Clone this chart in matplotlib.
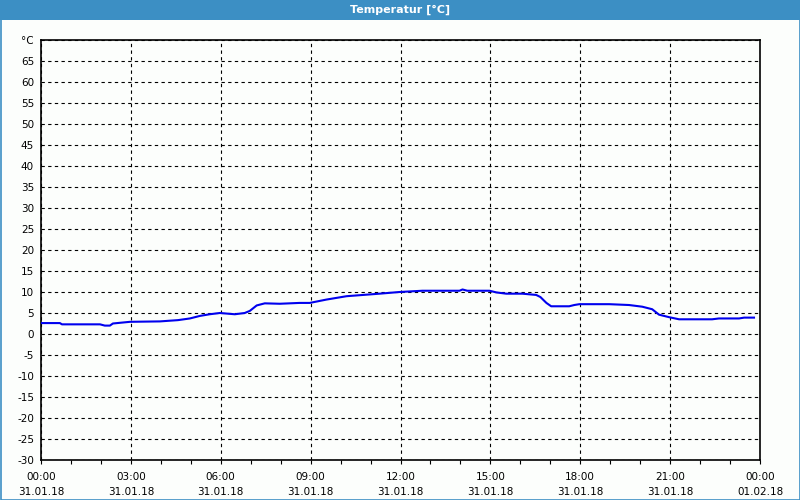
import matplotlib
matplotlib.use("Agg")
import matplotlib.pyplot as plt
from matplotlib.patches import Rectangle

# Data (hours since 31.01.18 00:00, temperature in °C)
hours = [0.0, 0.63, 0.7, 1.97, 2.13, 2.3, 2.4, 2.97, 3.97, 4.57, 4.97, 5.3, 5.63, 5.97,
         6.47, 6.8, 6.97, 7.2, 7.47, 7.97, 8.63, 8.97, 9.53, 10.2, 11.3, 11.97, 12.73,
         13.97, 14.07, 14.23, 14.97, 15.2, 15.53, 16.07, 16.53, 16.67, 16.87, 17.03,
         17.63, 17.8, 17.97, 18.97, 19.63, 20.07, 20.4, 20.63, 20.97, 21.3, 22.4, 22.63,
         23.3, 23.47, 23.8]
temps = [2.6, 2.6, 2.3, 2.3, 2.0, 2.0, 2.5, 2.9, 3.0, 3.3, 3.7, 4.3, 4.7, 5.0,
         4.7, 5.0, 5.5, 6.8, 7.3, 7.2, 7.4, 7.4, 8.2, 9.0, 9.6, 10.0, 10.3,
         10.3, 10.6, 10.3, 10.3, 9.9, 9.6, 9.6, 9.3, 8.8, 7.4, 6.6,
         6.6, 6.9, 7.1, 7.1, 6.9, 6.5, 5.9, 4.6, 4.0, 3.5, 3.5, 3.7,
         3.7, 3.9, 3.9]

x_ticks = [0, 3, 6, 9, 12, 15, 18, 21, 24]
x_labels = ["00:00\n31.01.18", "03:00\n31.01.18", "06:00\n31.01.18", "09:00\n31.01.18",
            "12:00\n31.01.18", "15:00\n31.01.18", "18:00\n31.01.18", "21:00\n31.01.18",
            "00:00\n01.02.18"]
y_ticks = list(range(-30, 75, 5))
y_labels = [str(v) for v in y_ticks[:-1]] + ["°C"]
title = "Temperatur [°C]"

W, H = 800, 500
fig = plt.figure(figsize=(8, 5), dpi=100, facecolor="#fcfefc")

# title bar
fig.patches.append(Rectangle((0, 1 - 20 / H), 1, 20 / H, transform=fig.transFigure,
                             facecolor="#3c8fc4", edgecolor="none", zorder=0))
fig.text(0.5, 1 - 10 / H, title, color="white", fontsize=8, fontweight="bold",
         ha="center", va="center")
# border
fig.patches.append(Rectangle((0.5 / W, 0.5 / H), 1 - 1 / W, 1 - 1 / H, transform=fig.transFigure,
                             facecolor="none", edgecolor="#3c8fc4", linewidth=1.2, zorder=5))

left, right, top, bottom = 41, 760, 40, 460
ax = fig.add_axes([left / W, 1 - bottom / H, (right - left) / W, (bottom - top) / H])
ax.set_facecolor("#fcfefc")
ax.plot(hours, temps, color="#0000ee", linewidth=1.5, zorder=3)

ax.set_xlim(0, 24)
ax.set_ylim(-30, 70)
ax.set_xticks(x_ticks)
ax.set_xticklabels(x_labels, fontsize=7.5, linespacing=1.6)
ax.set_xticks(range(0, 25), minor=True)
ax.set_yticks(y_ticks)
ax.set_yticklabels(y_labels, fontsize=7.5)
ax.tick_params(axis="x", which="both", length=3, width=0.8, pad=6, colors="black")
ax.tick_params(axis="y", length=0, pad=5)
ax.grid(True, which="major", color="black", linestyle=(0, (3, 3)), linewidth=0.8)
for s in ax.spines.values():
    s.set_color("black")
    s.set_linewidth(1.2)

fig.savefig("out.png", dpi=100, facecolor=fig.get_facecolor())
